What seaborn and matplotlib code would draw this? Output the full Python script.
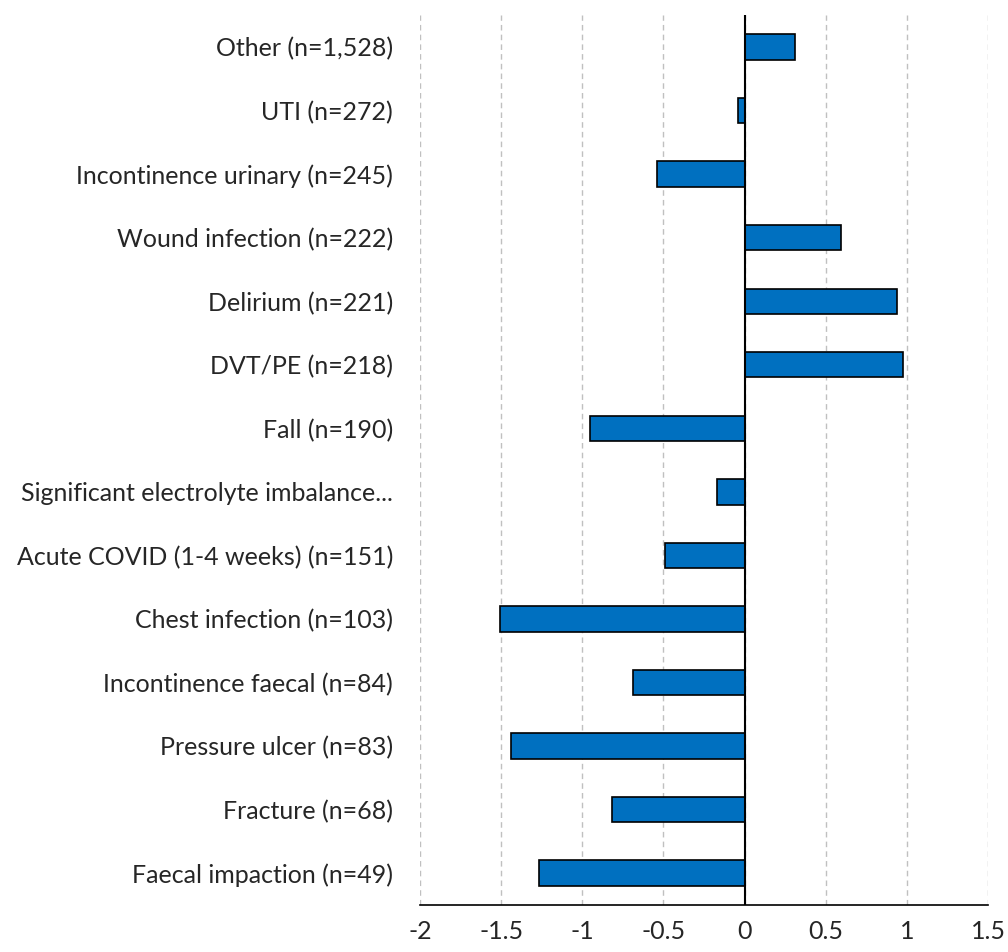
import pandas as pd
import numpy as np
import matplotlib
matplotlib.use("Agg")
import matplotlib.pyplot as plt
import seaborn as sns
from matplotlib.ticker import FuncFormatter

# Chart data
categories = [
    'Other (n=1,528)',
    'UTI (n=272)',
    'Incontinence urinary (n=245)',
    'Wound infection (n=222)',
    'Delirium (n=221)',
    'DVT/PE (n=218)',
    'Fall (n=190)',
    'Significant electrolyte imbalance...',
    'Acute COVID (1-4 weeks) (n=151)',
    'Chest infection (n=103)',
    'Incontinence faecal (n=84)',
    'Pressure ulcer (n=83)',
    'Fracture (n=68)',
    'Faecal impaction (n=49)',
]
values = [0.31, -0.04, -0.54, 0.595, 0.94, 0.975, -0.955,
          -0.17, -0.49, -1.51, -0.69, -1.44, -0.82, -1.265]
x_ticks = [-2, -1.5, -1, -0.5, 0, 0.5, 1, 1.5]

df = pd.DataFrame({'category': categories, 'value': values})

sns.set_style('white')
plt.rcParams['font.family'] = ['Lato', 'DejaVu Sans']
plt.rcParams['axes.unicode_minus'] = False

fig = plt.figure(figsize=(10.08, 9.52), dpi=100)
ax = fig.add_axes([0.4167, 0.0494, 0.5635, 0.9346])

sns.barplot(data=df, x='value', y='category', orient='h', color='#0070C0',
            edgecolor='black', linewidth=1.2, width=0.4, saturation=1, ax=ax,
            zorder=3)

ax.set_xlim(min(x_ticks), max(x_ticks))
ax.set_ylim(len(categories) - 0.5, -0.5)
ax.set_xticks(x_ticks)
ax.xaxis.set_major_formatter(FuncFormatter(lambda v, p: f'{v:g}'))
ax.grid(axis='x', color='#c0c0c0', linestyle=(0, (4, 3)), linewidth=1.0, zorder=0)
ax.axvline(0, color='black', linewidth=1.5, zorder=4)

for side in ['top', 'right', 'left']:
    ax.spines[side].set_visible(False)
ax.spines['bottom'].set_color('black')
ax.spines['bottom'].set_linewidth(1.2)

ax.tick_params(axis='x', which='major', direction='out', length=5, width=1.2,
               color='black', labelsize=18, pad=6)
ax.tick_params(axis='y', length=0, labelsize=18, pad=19.5)
ax.set_xlabel('')
ax.set_ylabel('')

fig.savefig('out.png', dpi=100)
